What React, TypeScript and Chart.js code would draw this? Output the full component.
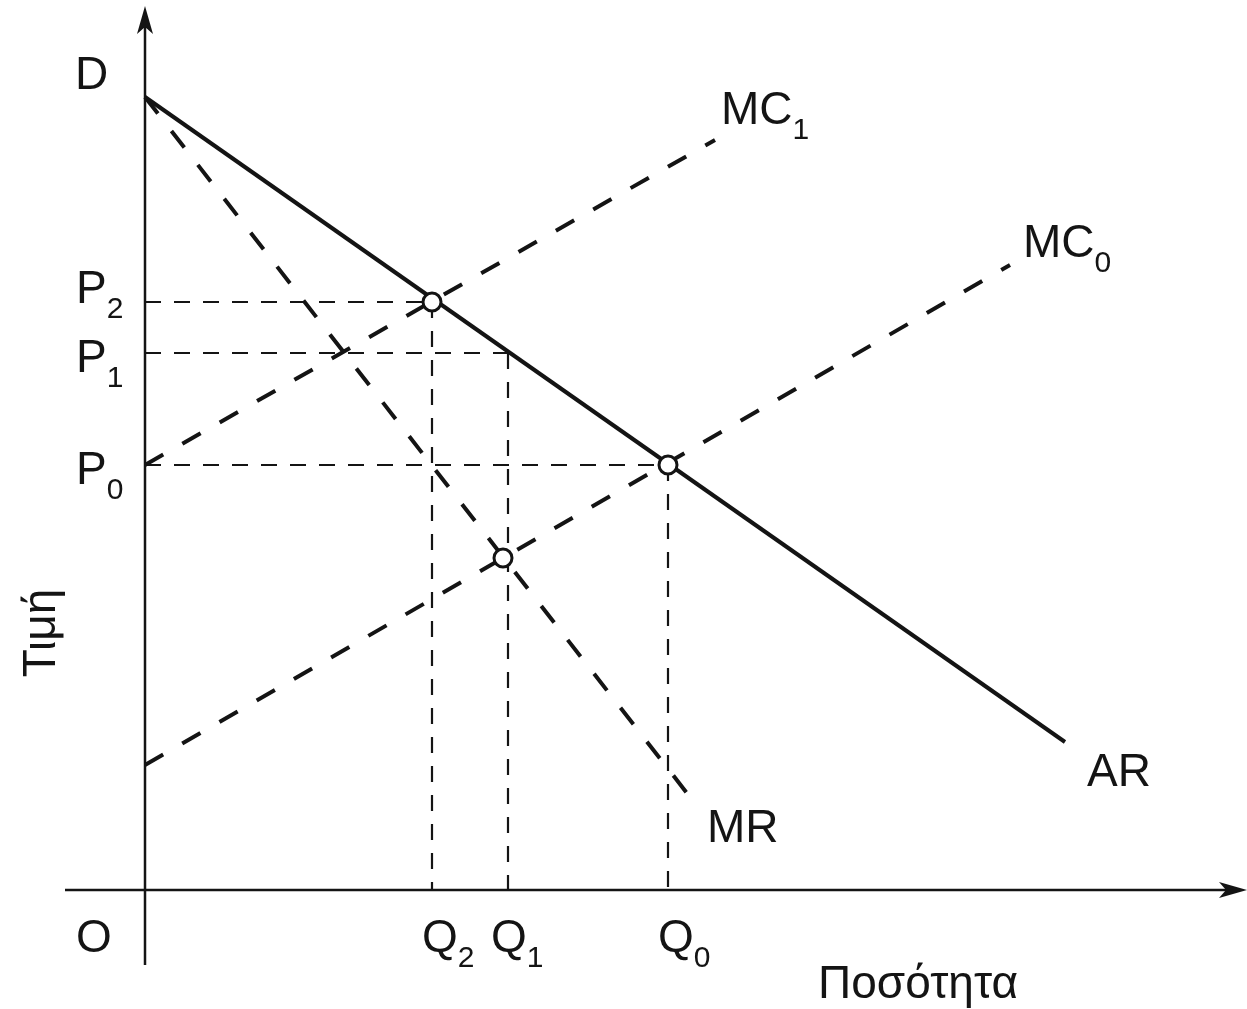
import React, { useEffect, useRef } from "react";
import { Chart, registerables } from "chart.js";

Chart.register(...registerables);

const W = 1247;
const H = 1009;

// view window (data units)
const X_MIN = -14.5;
const X_MAX = 110.2;
const Y_MIN = -11.9;
const Y_MAX = 89;

// curves (data units)
const D_PRICE = 79.3;
const AR_LINE = [{ x: 0, y: D_PRICE }, { x: 92, y: 14.8 }];
const MR_LINE = [{ x: 0, y: D_PRICE }, { x: 54.5, y: 9.3 }];
const MC1_LINE = [{ x: 0, y: 42.5 }, { x: 57, y: 75 }];
const MC0_LINE = [{ x: 0, y: 12.5 }, { x: 86.5, y: 62.5 }];

// equilibrium levels
const P_LEVELS = [58.8, 53.7, 42.5]; // P2, P1, P0
const Q_LEVELS = [28.7, 36.3, 52.3]; // Q2, Q1, Q0
const LEVEL_SUBS = ["2", "1", "0"];
const MR_MC0_POINT = { x: 35.8, y: 33.2 };

// axes extents
const X_AXIS = [-8, 109.6];
const Y_AXIS = [-7.5, 87.8];

const FONT = '"Liberation Sans", Arial, Helvetica, sans-serif';

export default function App() {
  const ref = useRef<HTMLCanvasElement | null>(null);

  useEffect(() => {
    document.body.style.margin = "0";
    const canvas = ref.current;
    if (!canvas) return;

    const black = "#141414";
    const thick = { borderColor: black, borderWidth: 4, pointRadius: 0, showLine: true, fill: false, borderDash: [21, 22], order: 1 };
    const guide = { borderColor: black, borderWidth: 2.2, pointRadius: 0, showLine: true, fill: false, borderDash: [16, 13], order: 2 };

    const guideSets: any[] = [];
    P_LEVELS.forEach((p, i) => {
      const q = Q_LEVELS[i];
      guideSets.push({ ...guide, data: [{ x: 0, y: p }, { x: q, y: p }] });
      guideSets.push({ ...guide, data: [{ x: q, y: p }, { x: q, y: 0 }] });
    });

    const circles = [
      { x: Q_LEVELS[0], y: P_LEVELS[0] },
      { x: Q_LEVELS[2], y: P_LEVELS[2] },
      MR_MC0_POINT,
    ];

    const pLabelShift = [1, 19, 19];
    const qLabelShift = [-10, -17, -10];

    const labelPlugin = {
      id: "labels",
      afterDatasetsDraw(chart: any) {
        const ctx = chart.ctx as CanvasRenderingContext2D;
        const xs = chart.scales.x;
        const ys = chart.scales.y;
        const px = (v: number) => xs.getPixelForValue(v);
        const py = (v: number) => ys.getPixelForValue(v);
        ctx.save();
        ctx.fillStyle = black;
        ctx.strokeStyle = black;

        // arrowheads
        const yt = py(Y_AXIS[1]);
        const x0 = px(0);
        ctx.beginPath();
        ctx.moveTo(x0, yt - 6);
        ctx.lineTo(x0 - 8, yt + 22);
        ctx.lineTo(x0, yt + 15);
        ctx.lineTo(x0 + 8, yt + 22);
        ctx.closePath();
        ctx.fill();
        const xt = px(X_AXIS[1]);
        const y0 = py(0);
        ctx.beginPath();
        ctx.moveTo(xt + 6, y0);
        ctx.lineTo(xt - 22, y0 - 8);
        ctx.lineTo(xt - 15, y0);
        ctx.lineTo(xt - 22, y0 + 8);
        ctx.closePath();
        ctx.fill();

        const big = `46px ${FONT}`;
        const small = `30px ${FONT}`;
        ctx.textAlign = "left";
        ctx.textBaseline = "alphabetic";
        const txt = (s: string, x: number, y: number) => {
          ctx.font = big;
          ctx.fillText(s, x, y);
        };
        const sub = (main: string, s: string, x: number, y: number) => {
          ctx.font = big;
          ctx.fillText(main, x, y);
          const w = ctx.measureText(main).width;
          ctx.font = small;
          ctx.fillText(s, x + w, y + 15);
        };

        txt("D", 75, py(D_PRICE) - 8);
        sub("MC", "1", px(MC1_LINE[1].x) + 6, py(MC1_LINE[1].y) - 16);
        sub("MC", "0", px(MC0_LINE[1].x) + 13, py(MC0_LINE[1].y) - 8);
        P_LEVELS.forEach((p, i) => sub("P", LEVEL_SUBS[i], 76, py(p) + pLabelShift[i]));
        Q_LEVELS.forEach((q, i) => sub("Q", LEVEL_SUBS[i], px(q) + qLabelShift[i], py(0) + 62));
        txt("O", 76, py(0) + 62);
        txt("AR", px(AR_LINE[1].x) + 22, py(AR_LINE[1].y) + 44);
        txt("MR", px(MR_LINE[1].x) + 17, py(MR_LINE[1].y) + 45);
        txt("Ποσότητα", 818, 998);

        ctx.save();
        ctx.translate(55, 633);
        ctx.rotate(-Math.PI / 2);
        ctx.textAlign = "center";
        ctx.font = big;
        ctx.fillText("Τιμή", 0, 0);
        ctx.restore();

        ctx.restore();
      },
    };

    const chart = new Chart(canvas, {
      type: "scatter",
      data: {
        datasets: [
          {
            data: circles,
            pointRadius: 9,
            pointBorderWidth: 3,
            pointBackgroundColor: "#ffffff",
            pointBorderColor: black,
            showLine: false,
            order: 0,
          },
          { data: AR_LINE, borderColor: black, borderWidth: 4, pointRadius: 0, showLine: true, fill: false, order: 1 },
          { ...thick, data: MR_LINE },
          { ...thick, data: MC1_LINE },
          { ...thick, data: MC0_LINE },
          ...guideSets,
          { data: [{ x: X_AXIS[0], y: 0 }, { x: X_AXIS[1] - 1, y: 0 }], borderColor: black, borderWidth: 2.5, pointRadius: 0, showLine: true, order: 3 },
          { data: [{ x: 0, y: Y_AXIS[0] }, { x: 0, y: Y_AXIS[1] - 1 }], borderColor: black, borderWidth: 2.5, pointRadius: 0, showLine: true, order: 3 },
        ] as any,
      },
      options: {
        responsive: false,
        animation: false,
        devicePixelRatio: 1,
        layout: { padding: 0, autoPadding: false },
        plugins: { legend: { display: false }, tooltip: { enabled: false } },
        events: [],
        scales: {
          x: { type: "linear", min: X_MIN, max: X_MAX, display: false },
          y: { type: "linear", min: Y_MIN, max: Y_MAX, display: false },
        },
      },
      plugins: [labelPlugin],
    });

    return () => chart.destroy();
  }, []);

  return (
    <div style={{ position: "absolute", left: 0, top: 0, width: W, height: H, background: "#fff" }}>
      <canvas ref={ref} width={W} height={H} style={{ display: "block" }} />
    </div>
  );
}
